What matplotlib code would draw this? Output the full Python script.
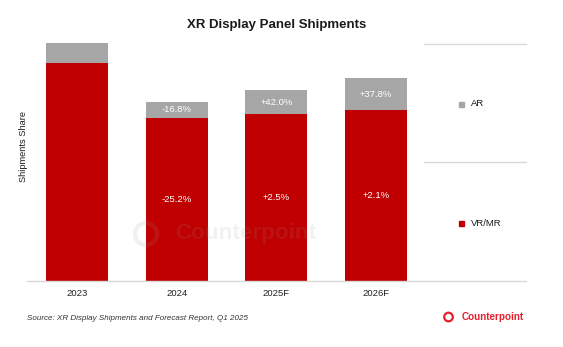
import matplotlib
matplotlib.use("Agg")
import matplotlib.pyplot as plt
from matplotlib.patches import Ellipse
from matplotlib.lines import Line2D

plt.rcParams['font.family'] = ['Liberation Sans', 'DejaVu Sans']

# ---- data ----
categories = ["2023", "2024", "2025F", "2026F"]
vr_values = [100.0, 74.8, 76.7, 78.3]
ar_values = [9.0, 7.5, 10.7, 14.7]
vr_labels = ["", "-25.2%", "+2.5%", "+2.1%"]
ar_labels = ["", "-16.8%", "+42.0%", "+37.8%"]
series_names = ["VR/MR", "AR"]

RED = "#C00000"
GRAY = "#A6A6A6"
LINE = "#D9D9D9"

W, H = 563, 347
fig = plt.figure(figsize=(W / 100, H / 100), dpi=100)

def fx(x):
    return x / W

def fy(y):
    return 1 - y / H

def ring(xc, yc, r, lw, color, alpha=1.0, z=5):
    fig.add_artist(Ellipse((fx(xc), fy(yc)), width=2 * r / W, height=2 * r / H,
                           transform=fig.transFigure, fill=False, lw=lw,
                           edgecolor=color, alpha=alpha, zorder=z))

# axes: x 27..525.7, y 40..281 (pixels)
ax_left, ax_right, ax_top, ax_bottom = 27, 525.7, 40, 281
ax = fig.add_axes([fx(ax_left), fy(ax_bottom), (ax_right - ax_left) / W, (ax_bottom - ax_top) / H])
px_per_unit = 218 / 100.0
ax.set_ylim(0, (ax_bottom - ax_top) / px_per_unit)
ax.set_xlim(-0.5, 4.5)

x = list(range(len(categories)))
bw = 0.62
bars_vr = ax.bar(x, vr_values, width=bw, color=RED, zorder=2)
bars_ar = ax.bar(x, ar_values, width=bw, bottom=vr_values, color=GRAY, zorder=2)

for i in x:
    if vr_labels[i]:
        ax.text(i, vr_values[i] / 2, vr_labels[i], ha="center", va="center",
                color="white", fontsize=6.8, zorder=4)
    if ar_labels[i]:
        ax.text(i, vr_values[i] + ar_values[i] / 2, ar_labels[i], ha="center", va="center",
                color="white", fontsize=6.8, zorder=4)

ax.set_xticks(x)
ax.set_xticklabels(categories, fontsize=6.8, color="#202020")
ax.tick_params(axis="x", length=0, pad=6)
ax.set_yticks([])
for s in ["top", "right", "left"]:
    ax.spines[s].set_visible(False)
ax.spines["bottom"].set_color(LINE)
ax.spines["bottom"].set_linewidth(1.0)

# title
fig.text(fx(276.4), fy(25), "XR Display Panel Shipments", ha="center", va="center",
         fontsize=9.5, fontweight="bold", color="#1a1a1a")

# y label
fig.text(fx(23.5), fy(146), "Shipments Share", rotation=90, ha="center", va="center",
         fontsize=6.7, color="#1a1a1a")

# legend table lines
for yy in (44, 162):
    fig.add_artist(Line2D([fx(424), fx(525.7)], [fy(yy), fy(yy)], color=LINE, lw=1.0))

# legend entries (AR top, VR/MR bottom)
leg_items = [(series_names[1], GRAY, 103.5), (series_names[0], RED, 223)]
for name, col, yy in leg_items:
    fig.add_artist(Line2D([fx(461)], [fy(yy)], marker="s", markersize=3.6,
                          color=col, linestyle="none"))
    fig.text(fx(470.5), fy(yy), name, ha="left", va="center", fontsize=6.8, color="#1a1a1a")

# watermark
fig.text(fx(175), fy(234), "Counterpoint", ha="left", va="center", fontsize=16.2,
         fontweight="bold", color="#9a9a9a", alpha=0.13, zorder=5)
ring(146, 234, 11, 3.2, "#9a9a9a", alpha=0.13)

# source
fig.text(fx(27), fy(318), "Source: XR Display Shipments and Forecast Report, Q1 2025",
         ha="left", va="center", fontsize=5.8, style="italic", color="#333333")

# logo
ring(448.5, 317, 4.3, 1.6, "#E4202E", z=3)
fig.text(fx(461.5), fy(316.5), "Counterpoint", ha="left", va="center", fontsize=7.1,
         fontweight="bold", color="#E4202E")

fig.savefig("out.png", dpi=100)
